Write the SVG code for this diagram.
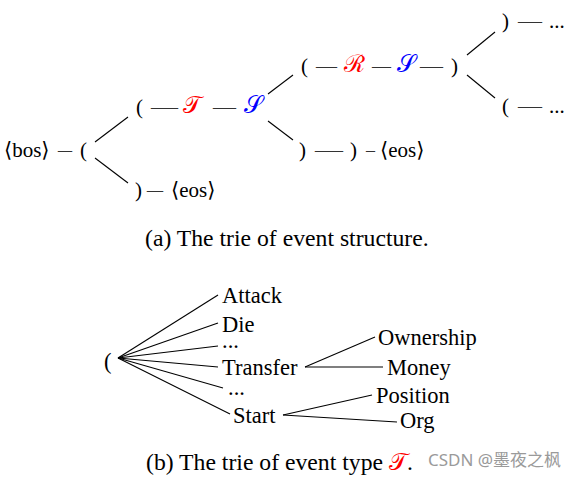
<svg xmlns="http://www.w3.org/2000/svg" width="579" height="486" viewBox="0 0 579 486">
<style>
.t{font-family:"Liberation Serif","DejaVu Serif",serif;font-size:21px;fill:#000}
.b{font-family:"Liberation Serif","DejaVu Serif",serif;font-size:22.5px;fill:#000}
.cap{font-family:"Liberation Serif","DejaVu Serif",serif;font-size:23.7px;fill:#000}
.d{font-family:"Liberation Serif","DejaVu Serif",serif;font-size:21px;fill:#333}
.m{font-family:"DejaVu Serif","Noto Sans",serif;font-size:24px}
.red{fill:#ff0000}
.blue{fill:#0000ff}
.wm{font-family:"Noto Sans","Noto Sans CJK SC",sans-serif;font-size:17px;fill:#9a9a9a}
.c line{stroke:#000;stroke-width:1.1}
</style>
<rect width="579" height="486" fill="#fff"/>
<g id="connectors" class="c">
<line x1="95" y1="142" x2="128" y2="117"/>
<line x1="95" y1="158" x2="128" y2="183"/>
<line x1="268" y1="94" x2="293" y2="75"/>
<line x1="268" y1="121" x2="293" y2="140"/>
<line x1="467" y1="55" x2="495" y2="32"/>
<line x1="467" y1="75" x2="495" y2="98"/>
<line x1="118" y1="358" x2="218" y2="295"/>
<line x1="118" y1="358" x2="218" y2="323"/>
<line x1="118" y1="358" x2="218" y2="346"/>
<line x1="118" y1="358" x2="218" y2="367"/>
<line x1="118" y1="358" x2="223" y2="388"/>
<line x1="118" y1="358" x2="230" y2="414"/>
<line x1="305" y1="367" x2="375" y2="337"/>
<line x1="305" y1="367" x2="383" y2="367"/>
<line x1="283" y1="415" x2="372" y2="395"/>
<line x1="283" y1="415" x2="397" y2="422"/>
</g>
<g id="root">
<text class="t" x="4" y="157">⟨bos⟩</text>
<text class="d" x="58" y="157" textLength="14" lengthAdjust="spacingAndGlyphs">–</text>
<text class="t" x="80" y="157">(</text>
</g>
<g id="open1">
<text class="t" x="136" y="114">(</text>
<text class="d" x="151" y="114" textLength="27" lengthAdjust="spacingAndGlyphs">—</text>
<text class="m red" x="183" y="113">𝒯</text>
<text class="d" x="213" y="114" textLength="23" lengthAdjust="spacingAndGlyphs">—</text>
<text class="m blue" x="244" y="113">𝒮</text>
</g>
<g id="close1">
<text class="t" x="135" y="197">)</text>
<text class="d" x="147" y="197" textLength="16" lengthAdjust="spacingAndGlyphs">–</text>
<text class="t" x="171" y="197">⟨eos⟩</text>
</g>
<g id="open2">
<text class="t" x="301" y="73">(</text>
<text class="d" x="316" y="73" textLength="21" lengthAdjust="spacingAndGlyphs">—</text>
<text class="m red" x="344" y="72">ℛ</text>
<text class="d" x="372" y="73" textLength="19" lengthAdjust="spacingAndGlyphs">—</text>
<text class="m blue" x="397" y="72">𝒮</text>
<text class="d" x="420" y="73" textLength="23" lengthAdjust="spacingAndGlyphs">—</text>
<text class="t" x="451" y="73">)</text>
</g>
<g id="close2">
<text class="t" x="299" y="157">)</text>
<text class="d" x="315" y="157" textLength="28" lengthAdjust="spacingAndGlyphs">—</text>
<text class="t" x="350" y="157">)</text>
<text class="d" x="366" y="157" textLength="9" lengthAdjust="spacingAndGlyphs">–</text>
<text class="t" x="380" y="157">⟨eos⟩</text>
</g>
<g id="close3">
<text class="t" x="502" y="28">)</text>
<text class="d" x="518" y="28" textLength="24" lengthAdjust="spacingAndGlyphs">—</text>
<text class="t" x="549" y="28">...</text>
</g>
<g id="open3">
<text class="t" x="502" y="113">(</text>
<text class="d" x="518" y="113" textLength="24" lengthAdjust="spacingAndGlyphs">—</text>
<text class="t" x="549" y="113">...</text>
</g>
<text class="cap" x="145" y="246">(a) The trie of event structure.</text>
<g id="b-root"><text class="b" x="104" y="369">(</text></g>
<g id="attack"><text class="b" x="222" y="303">Attack</text></g>
<g id="die"><text class="b" x="222" y="332">Die</text></g>
<g id="dots1"><text class="b" x="222" y="348">...</text></g>
<g id="transfer"><text class="b" x="222" y="375">Transfer</text></g>
<g id="dots2"><text class="b" x="228" y="395">...</text></g>
<g id="start"><text class="b" x="233" y="423">Start</text></g>
<g id="ownership"><text class="b" x="378" y="345">Ownership</text></g>
<g id="money"><text class="b" x="387" y="375">Money</text></g>
<g id="position"><text class="b" x="376" y="403">Position</text></g>
<g id="org"><text class="b" x="400" y="428">Org</text></g>
<text class="cap" x="146" y="470">(b) The trie of event type <tspan class="m red">𝒯</tspan>.</text>
<text class="wm" x="428" y="466">CSDN @墨夜之枫</text>
</svg>
